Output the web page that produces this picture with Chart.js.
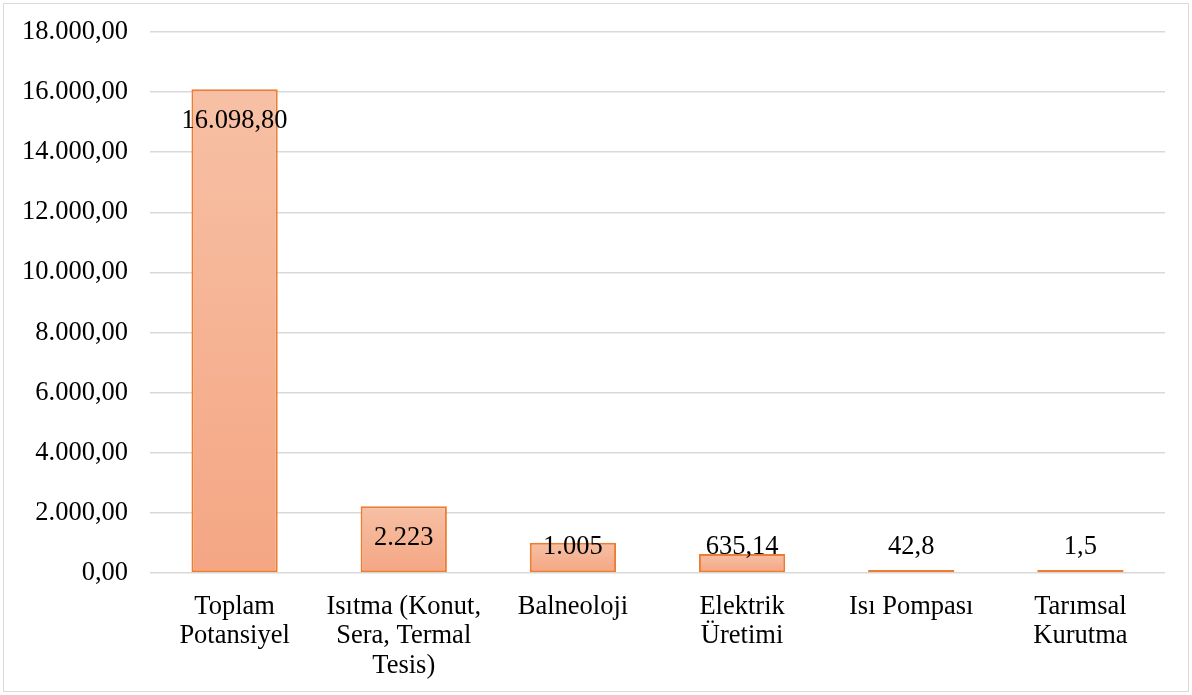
<!DOCTYPE html>
<html>
<head>
<meta charset="utf-8">
<script src="https://cdn.jsdelivr.net/npm/chart.js@4/dist/chart.umd.min.js"></script>
<style>
  body { margin: 0; background: #fff; }
  #wrap { position: relative; width: 1192px; height: 695px; }
  #frame { position: absolute; left: 3px; top: 3px; width: 1184px; height: 687px; border: 1px solid #d9d9d9; pointer-events: none; }
  canvas { position: absolute; left: 0; top: 0; }
</style>
</head>
<body>
<div id="wrap">
  <canvas id="chart" width="1192" height="695"></canvas>
  <div id="frame"></div>
</div>
<script>
const categories = [
    ["Toplam", "Potansiyel"],
    ["Isıtma (Konut,", "Sera, Termal", "Tesis)"],
    ["Balneoloji"],
    ["Elektrik", "Üretimi"],
    ["Isı Pompası"],
    ["Tarımsal", "Kurutma"]
];
const values = [16098.8, 2223, 1005, 635.14, 42.8, 1.5];
const valueLabels = ["16.098,80", "2.223", "1.005", "635,14", "42,8", "1,5"];
const yTickLabels = ["0,00", "2.000,00", "4.000,00", "6.000,00", "8.000,00",
    "10.000,00", "12.000,00", "14.000,00", "16.000,00", "18.000,00"];

const FONT = "'Times New Roman', 'Liberation Serif', serif";
const FONT_SIZE = 26.5;

// labels sit just inside the top of the bar, but never lower than a fixed line
const barLabels = {
    id: "barLabels",
    afterDatasetsDraw(chart) {
        const ctx = chart.ctx;
        const meta = chart.getDatasetMeta(0);
        const zero = chart.scales.y.getPixelForValue(0);
        ctx.save();
        ctx.font = FONT_SIZE + "px " + FONT;
        ctx.fillStyle = "#000";
        ctx.textAlign = "center";
        ctx.textBaseline = "middle";
        meta.data.forEach((bar, i) => {
            const y = Math.min(bar.y + 32, zero - 26);
            ctx.fillText(valueLabels[i], bar.x, y);
        });
        ctx.restore();
    }
};

function barGradient(context) {
    const chart = context.chart;
    const yScale = chart.scales.y;
    if (!yScale || context.dataIndex === undefined) return "#f5b293";
    const top = yScale.getPixelForValue(values[context.dataIndex]);
    const base = yScale.getPixelForValue(0);
    if (!isFinite(top) || !isFinite(base) || base - top < 3) return "#f5b293";
    const g = chart.ctx.createLinearGradient(0, top, 0, base);
    g.addColorStop(0, "#f7c0a5");
    g.addColorStop(1, "#f4a683");
    return g;
}

new Chart(document.getElementById("chart"), {
    type: "bar",
    data: {
        labels: categories,
        datasets: [{
            data: values,
            backgroundColor: barGradient,
            borderColor: "#ed7d31",
            borderWidth: 2,
            borderSkipped: false,
            minBarLength: 3,
            categoryPercentage: 1,
            barPercentage: 0.51
        }]
    },
    options: {
        responsive: false,
        animation: false,
        devicePixelRatio: 1,
        layout: { padding: { left: 10, right: 27, top: 20, bottom: 0 } },
        plugins: {
            legend: { display: false },
            tooltip: { enabled: false }
        },
        scales: {
            x: {
                grid: { display: false, drawTicks: false },
                border: { display: false },
                ticks: {
                    color: "#000",
                    font: { family: FONT, size: FONT_SIZE, lineHeight: 1.12 },
                    padding: 19,
                    maxRotation: 0,
                    autoSkip: false
                },
                afterFit(scale) { scale.height = 122; }
            },
            y: {
                min: 0,
                max: 18000,
                grid: { color: "#d9d9d9", lineWidth: 1.5, drawTicks: false },
                border: { display: false },
                ticks: {
                    stepSize: 2000,
                    color: "#000",
                    font: { family: FONT, size: FONT_SIZE, lineHeight: 0.755 },
                    padding: 22,
                    callback: (v) => yTickLabels[Math.round(v / 2000)]
                },
                afterFit(scale) { scale.width = 140; }
            }
        }
    },
    plugins: [barLabels]
});
</script>
</body>
</html>
